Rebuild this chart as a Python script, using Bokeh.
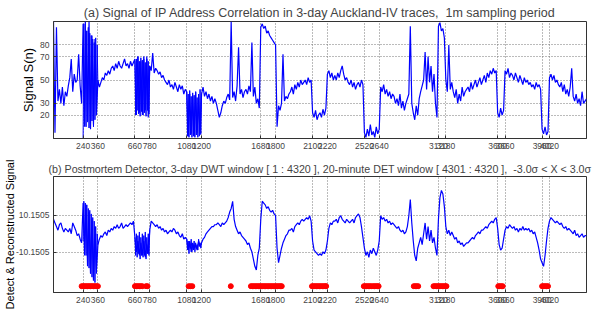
from bokeh.plotting import figure
from bokeh.layouts import column
from bokeh.models import FixedTicker, PrintfTickFormatter
from bokeh.embed import file_html
from bokeh.resources import INLINE

# sample index (minutes), one sample every 12 minutes over 3 days
minutes = list(range(0, 4321, 12))

# (a) signal of IP address correlation S(n)
signal = [
    100, 5, 95, 32, 42, 30, 44, 28, 40, 36,
    45, 52, 68, 40, 55, 48, 50, 72, 45, 30,
    98, 10, 92, 15, 100, 8, 88, 12, 85, 20,
    50, 44, 48, 52, 50, 56, 54, 58, 55, 60,
    62, 58, 64, 60, 66, 62, 60, 64, 68, 62,
    64, 60, 66, 62, 65, 68, 20, 70, 22, 66,
    20, 68, 24, 70, 18, 62, 58, 73, 56, 60,
    58, 55, 57, 52, 54, 50, 48, 46, 50, 44,
    46, 42, 48, 44, 40, 46, 42, 45, 38, 42,
    40, 2, 38, 4, 36, 2, 40, 5, 35, 3,
    38, 44, 36, 40, 34, 38, 32, 36, 30, 34,
    30, 24, 18, 22, 28, 32, 30, 35, 38, 33,
    100, 35, 40, 32, 45, 78, 38, 42, 35, 40,
    42, 38, 45, 40, 82, 36, 44, 30, 34, 26,
    95, 98, 94, 96, 90, 92, 88, 86, 84, 82,
    80, 10, 28, 24, 30, 72, 32, 36, 34, 38,
    40, 44, 38, 46, 42, 48, 44, 50, 46, 48,
    50, 46, 52, 48, 50, 22, 18, 24, 16, 20,
    22, 18, 25, 20, 26, 55, 58, 52, 56, 50,
    54, 50, 56, 52, 58, 62, 55, 50, 52, 48,
    46, 50, 44, 48, 42, 46, 48, 44, 50, 46,
    5, 1, 8, 2, 12, 3, 6, 1, 10, 4,
    8, 44, 40, 46, 38, 42, 36, 40, 34, 38,
    36, 30, 34, 28, 38, 26, 32, 24, 30, 34,
    38, 96, 30, 22, 16, 28, 20, 34, 40, 45,
    50, 74, 42, 70, 48, 62, 40, 55, 30, 18,
    96, 99, 92, 94, 86, 50, 40, 80, 42, 48,
    40, 35, 42, 30, 38, 32, 44, 36, 40, 42,
    44, 40, 48, 42, 46, 50, 44, 48, 52, 46,
    50, 54, 48, 56, 52, 58, 55, 60, 56, 58,
    22, 18, 26, 20, 24, 58, 55, 60, 52, 56,
    54, 50, 56, 52, 48, 54, 50, 46, 52, 48,
    50, 46, 48, 44, 46, 42, 48, 44, 46, 42,
    8, 4, 10, 3, 6, 52, 55, 50, 54, 48,
    50, 46, 44, 48, 40, 46, 38, 42, 36, 44,
    60, 36, 32, 38, 30, 34, 28, 40, 30, 32,
    34,
]

# (b) detect & reconstructed signal
recon = [
    8, 6, 4, 2, 5, 6, 3, 1, 3, 2,
    1, 3, 0, 6, 4, 2, -1, 0, -3, -5,
    17, -12, 16, -18, 12, -22, 8, -26, 4, -20,
    -6, -3, -1, -2, 0, 1, -1, 2, 1, 3,
    2, 4, 3, 5, 3, 4, 6, 3, 4, 5,
    4, 5, 6, 5, 7, -2, -10, -4, -12, -5,
    -12, -4, -13, -6, -11, 2, 7, 6, 5, 4,
    5, 3, 4, 2, 3, 1, 2, 0, 1, 2,
    1, 3, 2, 0, 1, -1, -2, 0, -3, -2,
    -3, -9, -4, -10, -5, -8, -6, -9, -4, -7,
    -5, -3, -2, 0, 1, 2, 3, 4, 4, 5,
    5, 6, 5, 4, 6, 5, 6, 7, 9, 12,
    14, 18, 8, 4, 2, 0, 1, -1, -2, -3,
    -4, -6, -5, -8, -10, -14, -18, -20, -12, -8,
    8, 18, 17, 16, 14, 15, 13, 12, 13, 11,
    10, -8, -16, -12, -8, -5, -3, -1, 0, 2,
    2, 3, 1, 4, 5, 6, 5, 7, 8, 7,
    8, 9, 8, 10, 7, -4, -9, -10, -11, -12,
    -11, -12, -10, -11, -9, -4, 3, 6, 5, 7,
    7, 8, 6, 9, 10, 8, 7, 6, 8, 7,
    6, 7, 8, 6, 9, 10, 11, 9, 4, -2,
    -8, -12, -10, -13, -9, -11, -8, -10, -12, -9,
    -4, 10, 8, 9, 7, 8, 6, 7, 5, 6,
    5, 4, 3, 4, 2, 1, 2, 0, 1, 4,
    10, 19, 6, -4, -12, -15, -8, -5, -2, -6,
    0, 6, -3, 4, -4, 2, -5, -2, -8, -12,
    8, 20, 24, 22, 15, 4, 0, 2, -1, 1,
    -1, -3, -2, -5, -4, -6, -5, -7, -6, -5,
    -5, -4, -3, -2, -3, -1, 0, 1, 0, 2,
    2, 3, 4, 3, 5, 6, 7, 6, 8, 9,
    3, -6, -9, -8, -3, 2, 4, 3, 5, 4,
    3, 4, 2, 3, 1, 3, 2, 4, 2, 3,
    2, 3, 1, 2, 0, 1, -2, -5, -9, -14,
    -16, -18, -12, -4, 3, 7, 9, 8, 7, 6,
    7, 6, 5, 6, 4, 3, 4, 2, 3, 2,
    1, 0, 2, -1, 0, -2, -1, 0, -2, -1,
    -1,
]

# finer 6-minute samples inside the three oscillation bursts
burst1_minutes = list(range(240, 361, 6))
burst2_minutes = list(range(660, 781, 6))
burst3_minutes = list(range(1080, 1201, 6))
signal_burst1 = [0, 98, 12, 100, 10, 92, 14, 95, 9, 90, 12, 88, 15, 85, 10, 82, 16, 86, 20, 80, 45]
signal_burst2 = [66, 20, 68, 24, 70, 21, 66, 19, 69, 23, 67, 20, 70, 22, 65, 19, 68, 24, 66, 21, 62]
signal_burst3 = [40, 2, 38, 1, 41, 3, 36, 1, 39, 2, 37, 1, 40, 3, 35, 1, 38, 2, 42, 4, 38]
recon_burst1 = [-4, 18, -8, 17, -12, 16, -16, 14, -19, 13, -22, 11, -24, 9, -25, 7, -27, 4, -22, 0, -6]
recon_burst2 = [-2, -12, 0, -13, -1, -11, 1, -14, -2, -12, 0, -13, -1, -12, 1, -14, -2, -11, 0, -12, 2]
recon_burst3 = [-3, -9, -4, -11, -5, -8, -3, -10, -6, -9, -4, -10, -5, -8, -6, -9, -3, -7, -5, -8, -5]

# detected anomaly samples (minutes)
detections = [
    228, 240, 252, 264, 276, 288, 300, 312, 324, 336, 348, 360,
    660, 672, 684, 696, 708, 720, 750, 762,
    1095, 1110, 1125,
    1437,
    1600, 1612, 1624, 1636, 1648, 1660, 1672, 1684, 1696, 1708, 1720,
    1732, 1744, 1756, 1768, 1780, 1792, 1804, 1816, 1828, 1840, 1850,
    2095, 2107, 2119, 2131, 2143, 2155, 2167, 2179, 2191, 2203, 2210,
    2515, 2527, 2539, 2551, 2563, 2575, 2590, 2602, 2614, 2626, 2635,
    2920, 2932, 2944, 2956,
    3080, 3092, 3104, 3116, 3128, 3140, 3152, 3164, 3176, 3185,
    3605, 3617, 3629, 3641,
    3960, 3972, 3984, 3996, 4008,
]
detect_level = -29

x_ticks = [240, 360, 660, 780, 1080, 1200, 1680, 1800, 2100, 2220,
           2520, 2640, 3120, 3180, 3600, 3660, 3960, 4020]
top_y_ticks = [20, 30, 50, 70, 80]
bottom_y_ticks = [-10.1505, 10.1505]

NB = "\u00a0"
title_a = "(a) Signal of IP Address Correlation in 3-day Auckland-IV traces," + NB + " 1m sampling period"
title_b = ("(b) Postmortem Detector, 3-day DWT window [ 1 : 4320 ], 20-minute DET window "
           "[ 4301 : 4320 ]," + NB + " -3.0\u03c3 < X < 3.0\u03c3")

FONT = "Liberation Sans"
BLUE = "#0000ff"


def style(p, yticks, title_size):
    p.title.text_font = FONT
    p.title.text_font_size = title_size
    p.title.text_font_style = "normal"
    p.title.align = "center"
    p.title.standoff = 3
    p.outline_line_color = "#333333"
    p.outline_line_width = 1
    for ax in (p.xaxis[0], p.yaxis[0]):
        ax.major_label_text_font = FONT
        ax.major_label_text_font_size = "8.5px"
        ax.major_label_text_color = "#444444"
        ax.axis_line_color = "#333333"
        ax.major_tick_line_color = "#333333"
        ax.major_tick_in = 3
        ax.major_tick_out = 0
        ax.minor_tick_line_color = None
        ax.major_label_standoff = 4
        ax.axis_label_text_font = FONT
        ax.axis_label_text_font_style = "normal"
        ax.axis_label_text_color = "black"
    p.xaxis[0].ticker = FixedTicker(ticks=x_ticks)
    p.yaxis[0].ticker = FixedTicker(ticks=yticks)
    for g in (p.xgrid[0], p.ygrid[0]):
        g.grid_line_color = "#777777"
        g.grid_line_dash = "1 2"
        g.grid_line_width = 1
    p.background_fill_color = "white"
    p.border_fill_color = "white"


p1 = figure(width=594, height=157, x_range=(0, 4320), y_range=(0, 100),
            output_backend="svg", toolbar_location=None, title=title_a,
            min_border_left=50, min_border_right=8, min_border_top=21, min_border_bottom=19)
style(p1, top_y_ticks, "12.5px")
p1.yaxis[0].axis_label = "Signal S(n)"
p1.yaxis[0].axis_label_text_font_size = "13px"
p1.yaxis[0].axis_label_standoff = 1
p1.line(minutes, signal, color=BLUE, line_width=1.2)
for bx, by in ((burst1_minutes, signal_burst1), (burst2_minutes, signal_burst2),
               (burst3_minutes, signal_burst3)):
    p1.line(bx, by, color=BLUE, line_width=1)

p2 = figure(width=594, height=157, x_range=(0, 4320), y_range=(-32.5, 31.7),
            output_backend="svg", toolbar_location=None, title=title_b,
            min_border_left=50, min_border_right=8, min_border_top=19, min_border_bottom=22)
style(p2, bottom_y_ticks, "10.7px")
p2.yaxis[0].formatter = PrintfTickFormatter(format="%.4f")
p2.yaxis[0].axis_label = "Detect & Reconstructed Signal"
p2.yaxis[0].axis_label_text_font_size = "11px"
p2.yaxis[0].axis_label_standoff = -3
p2.line(minutes, recon, color=BLUE, line_width=1.2)
for bx, by in ((burst1_minutes, recon_burst1), (burst2_minutes, recon_burst2),
               (burst3_minutes, recon_burst3)):
    p2.line(bx, by, color=BLUE, line_width=1)
p2.scatter(detections, [detect_level] * len(detections), size=5, color="#ff0000")

layout = column(p1, p2, spacing=0)
open("out.html", "w").write(file_html(layout, INLINE))
